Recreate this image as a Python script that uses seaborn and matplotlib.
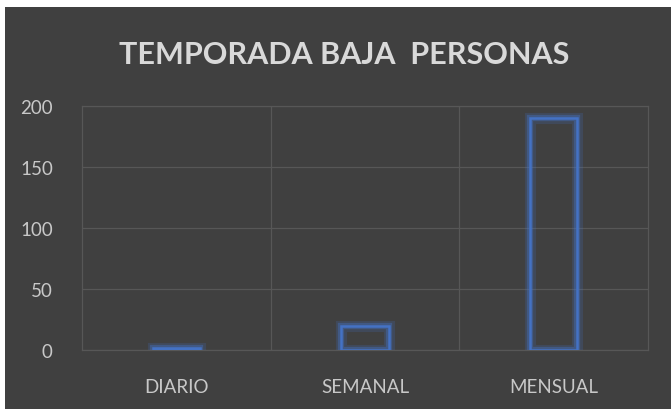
import numpy as np
import pandas as pd
import matplotlib
matplotlib.use("Agg")
import matplotlib.pyplot as plt
import seaborn as sns
from matplotlib.patches import Rectangle
from matplotlib.patheffects import Stroke, Normal

categories = ["DIARIO", "SEMANAL", "MENSUAL"]
personas = [2, 20, 190]
yticks = [0, 50, 100, 150, 200]

bg = "#404040"
grid_c = "#575757"
text_c = "#c8c8c8"
bar_c = "#4472C4"

sns.set_theme(style="dark")
plt.rcParams["font.family"] = ["Lato", "DejaVu Sans"]

fig = plt.figure(figsize=(6.71, 4.10), dpi=100)
fig.patch.set_facecolor("white")
fig.patches.append(Rectangle((5 / 671, 0), 1, (410 - 8) / 410,
                             transform=fig.transFigure, facecolor=bg,
                             edgecolor="none", zorder=-10))

ax = fig.add_axes([82 / 671, 59 / 410, 566 / 671, 244 / 410])
ax.set_facecolor(bg)

df = pd.DataFrame({"cat": categories, "val": personas})
sns.barplot(data=df, x="cat", y="val", ax=ax, width=0.25, fill=False,
            color=bar_c, linewidth=1.8, zorder=3)

# soft glow round the bar outlines
glow = [Stroke(linewidth=8, foreground=bar_c, alpha=0.2),
        Stroke(linewidth=4.5, foreground=bar_c, alpha=0.4),
        Normal()]
for p in ax.patches:
    p.set_edgecolor(bar_c)
    p.set_facecolor("none")
    p.set_path_effects(glow)

ax.set_xlim(-0.5, 2.5)
ax.set_ylim(0, 200)
ax.set_yticks(yticks)
ax.set_xticks(range(len(categories)), labels=categories)
ax.set_xticks([0.5, 1.5], minor=True)

ax.grid(True, axis="y", which="major", color=grid_c, linewidth=0.9)
ax.grid(True, axis="x", which="minor", color=grid_c, linewidth=0.9)
ax.grid(False, axis="x", which="major")
ax.set_axisbelow(True)
for s in ax.spines.values():
    s.set_visible(True)
    s.set_color(grid_c)
    s.set_linewidth(0.9)

ax.tick_params(axis="both", which="both", length=0, colors=text_c,
               labelsize=13.5)
ax.tick_params(axis="y", pad=21)
ax.tick_params(axis="x", pad=20)
ax.set_xlabel("")
ax.set_ylabel("")

fig.text(344 / 671, 1 - 55 / 410, "TEMPORADA BAJA  PERSONAS",
         ha="center", va="center", fontsize=22, fontweight="bold",
         color="#d9d9d9")

fig.savefig("out.png", dpi=100, facecolor=fig.get_facecolor())
